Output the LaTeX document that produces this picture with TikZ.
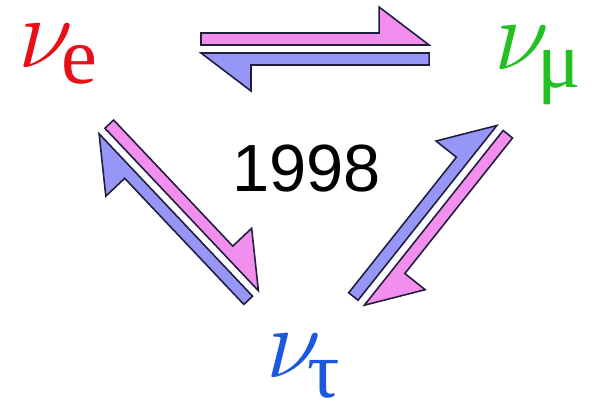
\documentclass[tikz,border=0pt]{standalone}
\usepackage{graphicx}
\usepackage{fontspec}
\setmainfont{Liberation Serif}
\setsansfont{Liberation Sans}
\usetikzlibrary{calc}

\definecolor{nured}{RGB}{232,16,22}
\definecolor{nugreen}{RGB}{34,192,34}
\definecolor{nublue}{RGB}{26,88,226}
\definecolor{arrpink}{RGB}{242,142,238}
\definecolor{arrblue}{RGB}{150,150,246}
\definecolor{arredge}{RGB}{32,30,62}

\newcommand\subsize{\fontsize{46}{46}\selectfont}
\newcommand\nuglyph{\scalebox{2.3}{\fontsize{24.88}{25}\selectfont$\nu$}}

% two half arrows side by side: pink #1 -> #2, blue #2 -> #1
\newcommand\flowpair[2]{%
  \pgfpointdiff{\pgfpointanchor{#1}{center}}{\pgfpointanchor{#2}{center}}%
  \pgfgetlastxy{\pairdx}{\pairdy}%
  \pgfmathsetmacro\pairlen{veclen(\pairdx,\pairdy)/0.56905}%
  \pgfmathsetmacro\pairang{atan2(\pairdy,\pairdx)}%
  \begin{scope}[shift={(#1)},rotate=\pairang]
    \draw[halfpink] (0,4) -- (0,16) -- ({\pairlen-50},16) -- ({\pairlen-50},42)
                    -- (\pairlen,4) -- cycle;
    \draw[halfblue] (\pairlen,-4) -- (\pairlen,-16) -- (50,-16) -- (50,-42)
                    -- (0,-4) -- cycle;
  \end{scope}}

\begin{document}
\begin{tikzpicture}[
      x=0.02cm, y=0.02cm,
      halfpink/.style={draw=arredge, fill=arrpink, line width=0.9pt},
      halfblue/.style={draw=arredge, fill=arrblue, line width=0.9pt},
      flavour/.style={inner sep=0pt, anchor=base west, text=#1}
    ]
    \path[fill=white] (0,0) rectangle (600,409);

    \node[flavour=nured]   (ve) at (18,341) {\nuglyph\kern-7pt\raisebox{-9pt}{\subsize e}};
    \node[flavour=nugreen] (vm) at (494,339) {\nuglyph\kern-7pt\raisebox{-10pt}{\subsize μ}};
    \node[flavour=nublue]  (vt) at (266,31) {\nuglyph\kern-8pt\raisebox{-11pt}{\subsize τ}};
    \node[inner sep=0pt, font=\sffamily\fontsize{38}{38}\selectfont] (year) at (306.5,240) {1998};

    % arrow ends
    \coordinate (em-a) at (201,360);
    \coordinate (em-b) at (429,360);
    \coordinate (et-a) at (102,278);
    \coordinate (et-b) at (256,115);
    \coordinate (mt-a) at (500,281);
    \coordinate (mt-b) at (361,106);

    \flowpair{em-a}{em-b}
    \flowpair{et-a}{et-b}
    \flowpair{mt-a}{mt-b}
  \end{tikzpicture}
\end{document}
